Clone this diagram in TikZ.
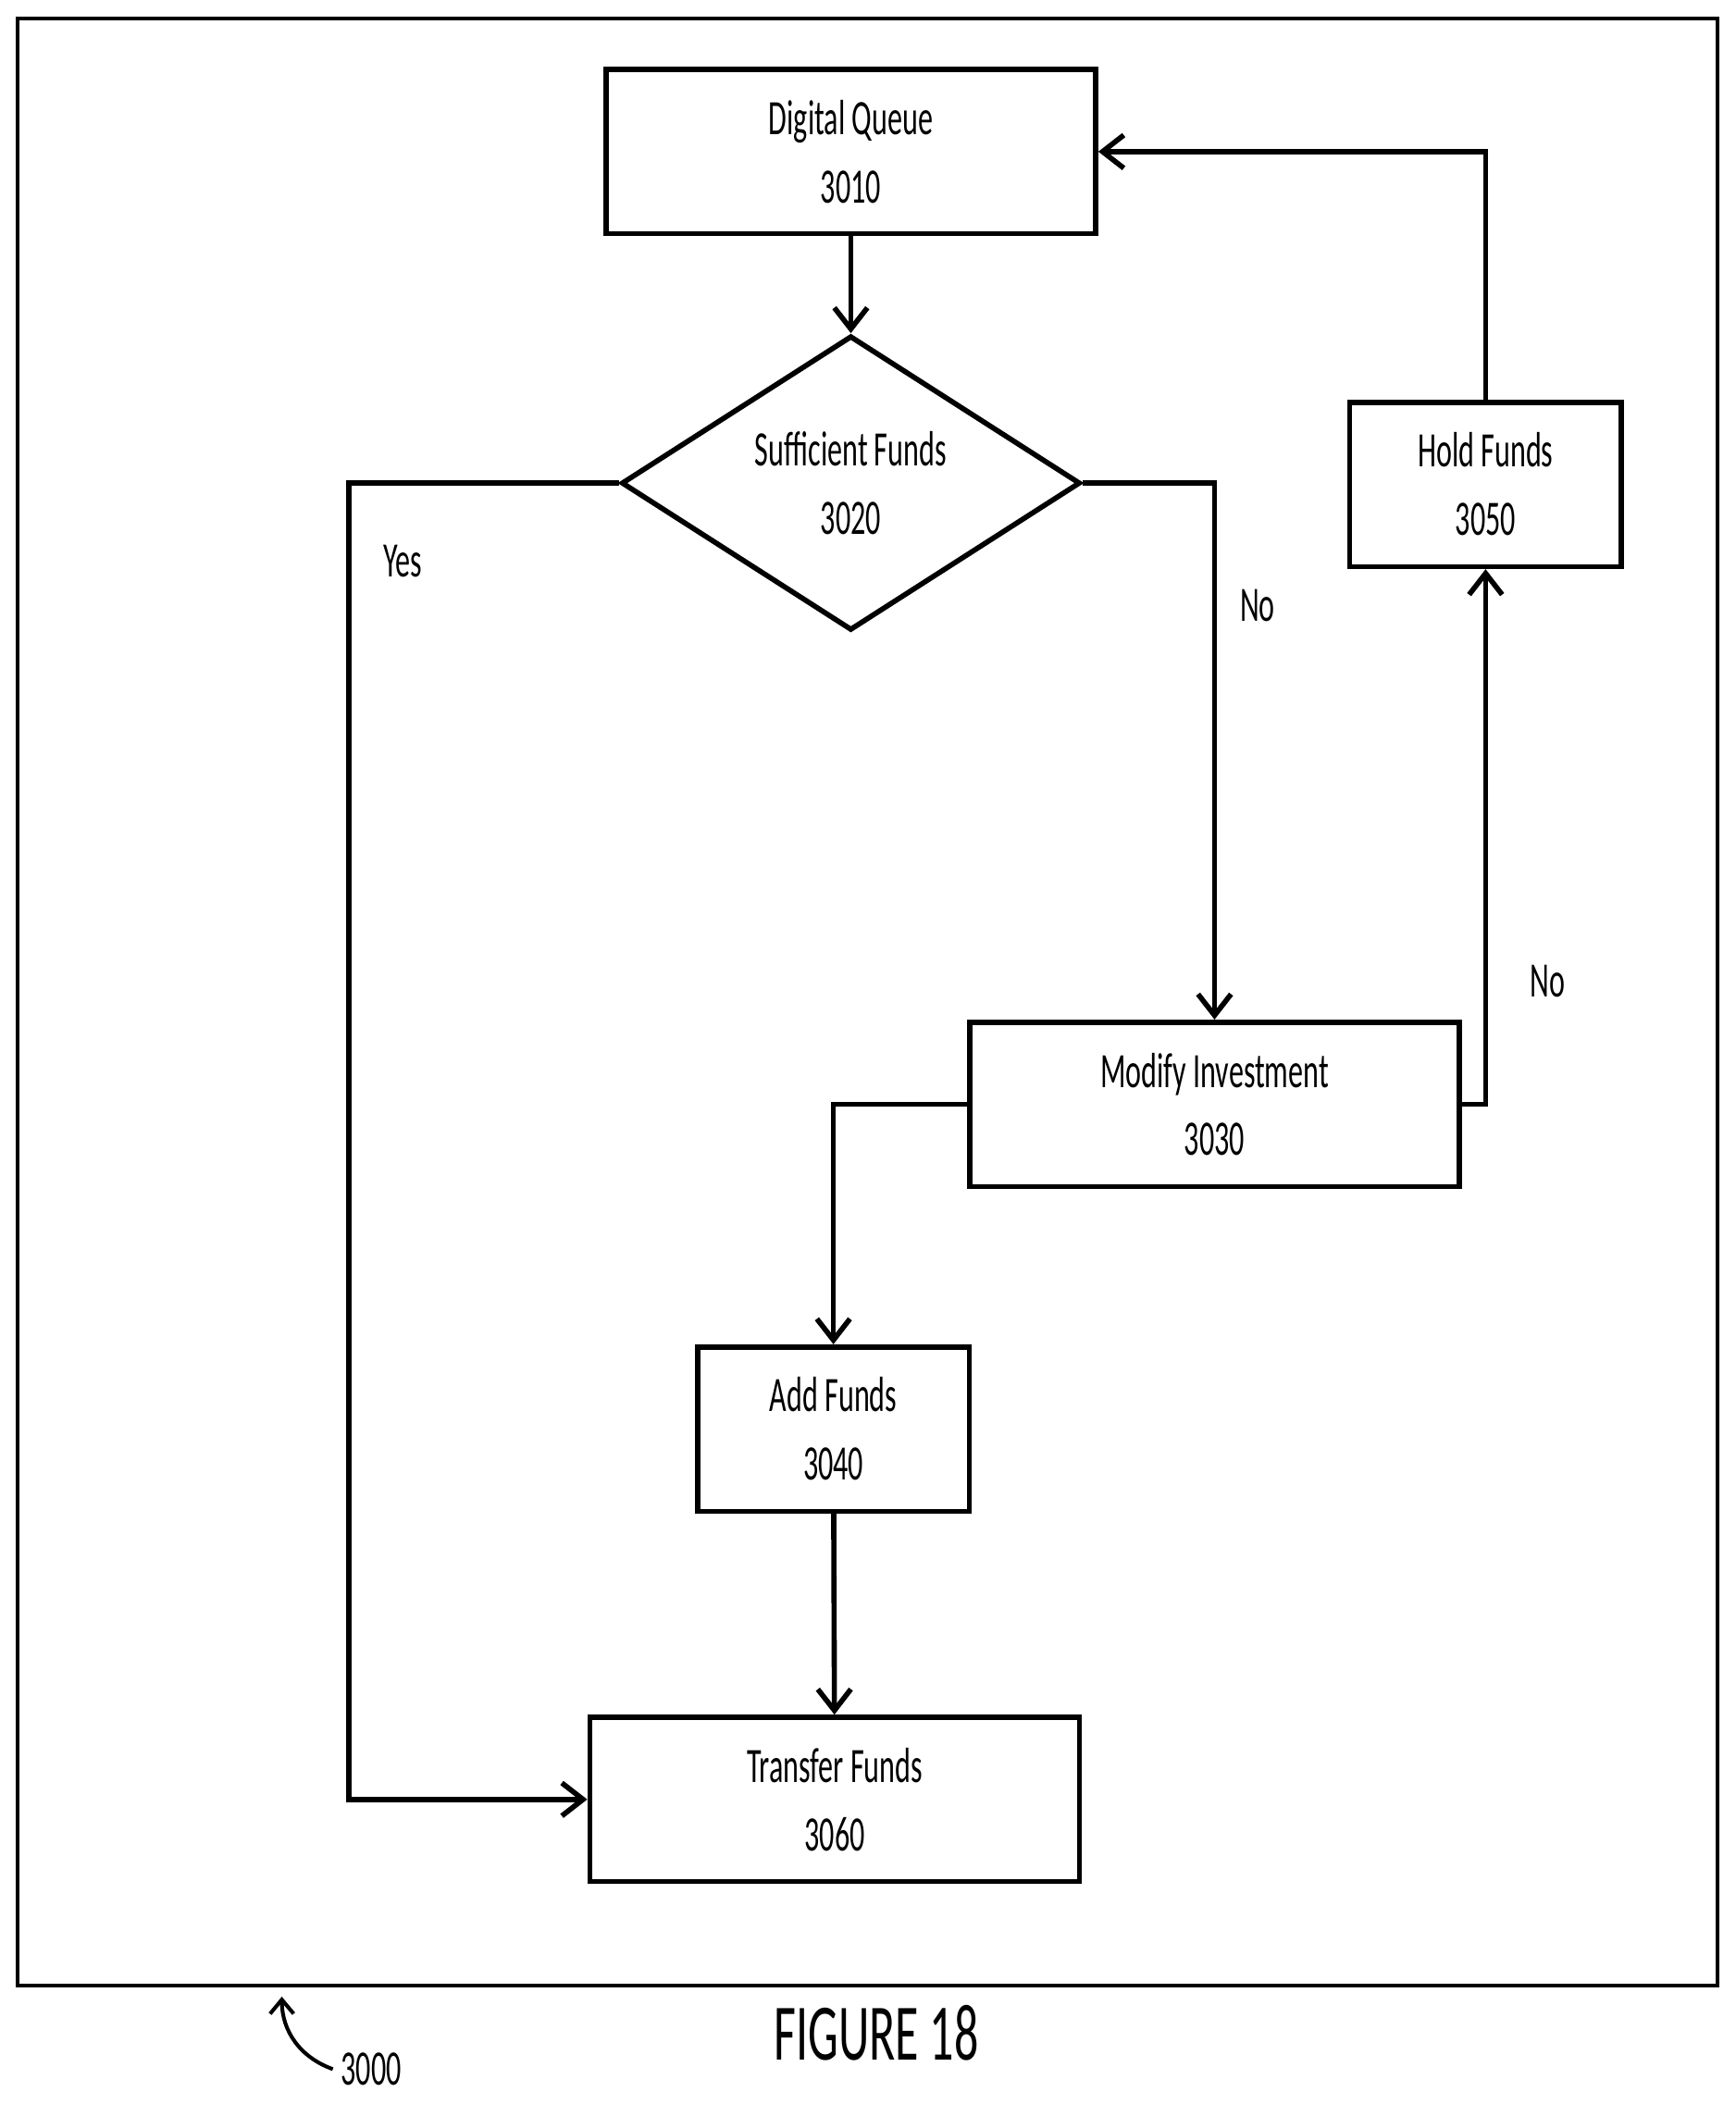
\documentclass[tikz,border=0pt]{standalone}
\usepackage{fontspec}
\setmainfont[FakeStretch=0.6]{Carlito}
\usetikzlibrary{shapes.geometric,arrows.meta}
\tikzset{
  box/.style={draw,line width=2.2pt,minimum width=7.3cm,minimum height=2.45cm,align=center,font=\fontsize{21}{29}\selectfont},
  smallbox/.style={box,minimum width=4.05cm},
  flow/.style={line width=2.2pt,-{Straight Barb[length=9pt,width=14pt]}},
  lbl/.style={font=\fontsize{21}{25}\selectfont}
}
\begin{document}
\begin{tikzpicture}[x=0.02cm,y=-0.02cm]
  \useasboundingbox (0,0) rectangle (1293,1568);
  \draw[line width=1.6pt] (13,14) rectangle (1280,1480);

  \node[box] (queue) at (634,113) {Digital Queue\\3010};
  \node[diamond,draw,line width=2.2pt,minimum width=6.84cm,minimum height=3.56cm,inner sep=0pt,align=center,font=\fontsize{21}{29}\selectfont] (funds) at (634,360) {Sufficient Funds\\3020};
  \node[smallbox] (hold) at (1107,361) {Hold Funds\\3050};
  \node[box] (modify) at (905,823) {Modify Investment\\3030};
  \node[smallbox] (add) at (621,1065) {Add Funds\\3040};
  \node[box] (transfer) at (622,1341) {Transfer Funds\\3060};

  \draw[flow] (queue) -- (funds);
  \draw[flow] (funds.west) -- (260,360) -- (260,1341) -- (transfer.west);
  \node[lbl] at (300,418) {Yes};
  \draw[flow] (funds.east) -- (905,360) -- (modify.north);
  \node[lbl] at (937,451) {No};
  \draw[flow] (modify.east) -- (1107,823) -- (hold.south);
  \node[lbl] at (1153,731) {No};
  \draw[flow] (hold.north) -- (1107,113) -- (queue.east);
  \draw[flow] (modify.west) -- (621,823) -- (add.north);
  \draw[flow] (add) -- (transfer);

  \node[font=\fontsize{34}{40}\selectfont] (fig) at (653,1515) {FIGURE 18};
  \node[lbl,anchor=west] (ref) at (248,1542) {3000};
  \draw[line width=1.6pt,-{Straight Barb[length=6pt,width=10pt]}] (ref.west) to[bend left=35] (210,1488);
\end{tikzpicture}
\end{document}
